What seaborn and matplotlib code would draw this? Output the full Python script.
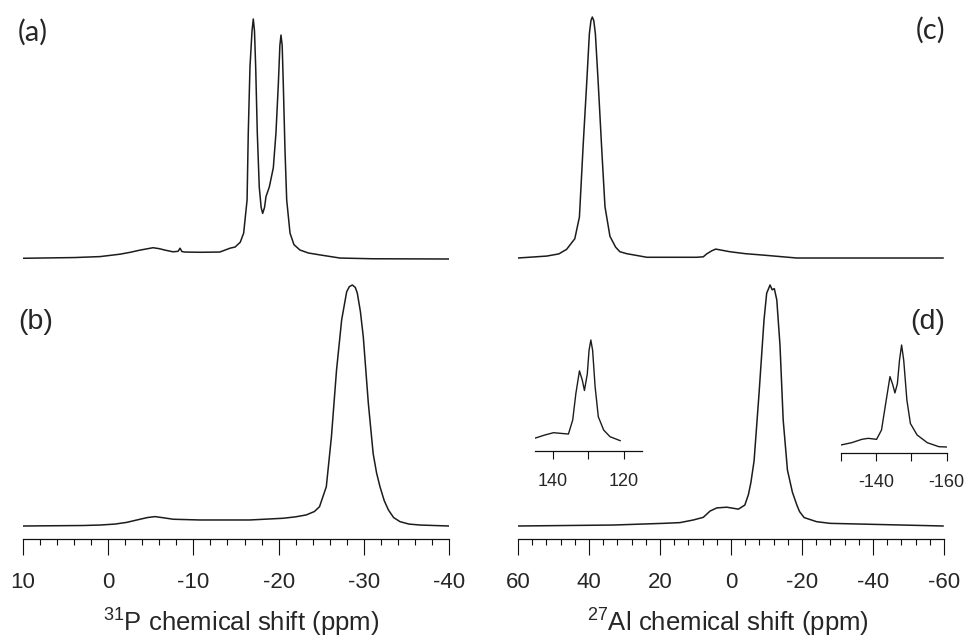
import matplotlib
matplotlib.use('Agg')
import matplotlib.pyplot as plt
from matplotlib.ticker import MultipleLocator, FixedLocator
import seaborn as sns

sns.set_style('white')
plt.rcParams['font.family'] = ['Liberation Sans', 'DejaVu Sans']
plt.rcParams['axes.unicode_minus'] = False
plt.rcParams['mathtext.fontset'] = 'custom'
plt.rcParams['mathtext.rm'] = 'Liberation Sans'

# (a) 31P spectrum, top
a_ppm = [10.0, 4.0, 0.96, -1.38, -2.6, -3.73, -5.26, -6.0, -6.67, -7.6, -8.2, -8.43, -8.65,
         -9.0, -10.8, -13.1, -14.3, -14.9, -15.5, -15.9, -16.3, -16.44, -16.64, -16.88,
         -17.03, -17.17, -17.31, -17.5, -17.73, -17.95, -18.13, -18.35, -18.52, -18.91,
         -19.38, -19.69, -19.97, -20.15, -20.28, -20.42, -20.55, -20.75, -20.95, -21.34,
         -21.8, -22.5, -23.5, -24.86, -27.2, -31.0, -40.0]
a_int = [0.003, 0.006, 0.01, 0.02, 0.028, 0.037, 0.047, 0.043, 0.037, 0.03, 0.032, 0.045,
         0.031, 0.029, 0.028, 0.029, 0.045, 0.05, 0.07, 0.108, 0.246, 0.525, 0.80, 0.95,
         1.0, 0.95, 0.80, 0.525, 0.30, 0.215, 0.19, 0.215, 0.26, 0.30,
         0.38, 0.525, 0.73, 0.89, 0.933, 0.89, 0.73, 0.454, 0.246, 0.108,
         0.06, 0.0375, 0.025, 0.017, 0.004, 0.001, 0.0]

# (b) 31P spectrum, bottom
b_ppm = [10.0, 3.0, 0.96, -0.8, -2.17, -3.73, -4.6, -5.49, -6.5, -7.64, -10.78, -16.6,
         -20.5, -22.0, -23.25, -24.2, -24.8, -25.6, -26.2, -26.8, -27.4, -27.99, -28.3,
         -28.65, -29.0, -29.24, -29.6, -29.94, -30.53, -31.1, -31.5, -31.9, -32.4, -32.9,
         -33.5, -34.25, -35.3, -36.6, -40.0]
b_int = [0.0, 0.002, 0.004, 0.008, 0.015, 0.028, 0.035, 0.039, 0.034, 0.028, 0.025, 0.025,
         0.032, 0.038, 0.046, 0.06, 0.08, 0.163, 0.37, 0.647, 0.855, 0.972, 0.993,
         1.0, 0.99, 0.966, 0.89, 0.785, 0.51, 0.30, 0.22, 0.163, 0.105, 0.066,
         0.035, 0.018, 0.008, 0.004, 0.0]

# (c) 27Al spectrum, top
c_ppm = [60.0, 51.9, 48.5, 46.3, 44.0, 42.7, 41.6, 40.65, 39.9, 39.45, 39.07, 38.65, 38.2,
         37.4, 36.4, 35.5, 34.1, 32.5, 31.3, 29.4, 23.7, 9.7, 7.8, 6.85, 5.4, 4.3, 2.5,
         0.3, -4.0, -9.1, -18.5, -59.8]
c_int = [0.0, 0.008, 0.017, 0.036, 0.08, 0.17, 0.48, 0.725, 0.93, 0.985, 1.0, 0.985, 0.93,
         0.725, 0.448, 0.213, 0.09, 0.045, 0.026, 0.018, 0.003, 0.003, 0.005, 0.017, 0.03,
         0.037, 0.032, 0.026, 0.018, 0.012, 0.0, 0.0]

# (d) 27Al spectrum, bottom
d_ppm = [60.0, 33.2, 19.1, 14.4, 10.6, 7.8, 5.9, 4.0, 1.2, -2.1, -3.9, -4.9, -5.6, -6.5,
         -7.9, -9.3, -10.05, -11.0, -11.6, -12.2, -12.9, -13.8, -14.7, -15.9, -17.3, -18.6,
         -19.3, -20.6, -24.1, -27.9, -59.8]
d_int = [0.0, 0.004, 0.011, 0.014, 0.025, 0.036, 0.062, 0.075, 0.078, 0.07, 0.087, 0.13,
         0.18, 0.27, 0.55, 0.855, 0.966, 1.0, 0.98, 0.985, 0.938, 0.75, 0.44, 0.232, 0.14,
         0.085, 0.06, 0.035, 0.018, 0.011, 0.0]

# insets of (d): sidebands
li_ppm = [145.0, 142.2, 139.8, 137.9, 135.6, 134.4, 133.5, 132.5, 131.7, 131.1, 130.3,
          129.8, 129.3, 128.8, 128.1, 127.2, 125.7, 123.9, 121.0]
li_int = [0.047, 0.078, 0.10, 0.094, 0.087, 0.223, 0.483, 0.70, 0.61, 0.51, 0.67,
          0.90, 1.0, 0.90, 0.547, 0.255, 0.126, 0.061, 0.022]
ri_ppm = [-130.0, -133.0, -135.9, -137.7, -140.1, -141.5, -142.7, -143.9, -144.7, -145.3,
          -146.0, -146.6, -147.2, -147.8, -148.7, -149.7, -151.6, -154.5, -157.8, -160.0]
ri_int = [0.02, 0.042, 0.075, 0.085, 0.075, 0.167, 0.43, 0.69, 0.61, 0.53,
          0.62, 0.85, 1.0, 0.85, 0.46, 0.23, 0.118, 0.042, 0.003, 0.0]

W, H = 969, 641
fig = plt.figure(figsize=(W / 100, H / 100), dpi=100)
line_color = '#1c1c1c'


def make_axes(x0, x1, ytop, ybot, base, scale):
    # pixel box -> figure axes, base = pixel row of zero intensity
    ax = fig.add_axes([x0 / W, 1 - ybot / H, (x1 - x0) / W, (ybot - ytop) / H])
    ax.set_ylim((base - ybot) / scale, (base - ytop) / scale)
    ax.set_facecolor('none')
    return ax


def draw(ax, x, y, lw=1.1):
    sns.lineplot(x=x, y=y, ax=ax, color=line_color, linewidth=lw, estimator=None)


def bottom_only(ax):
    for s in ['top', 'left', 'right']:
        ax.spines[s].set_visible(False)
    ax.spines['bottom'].set_linewidth(0.9)
    ax.spines['bottom'].set_color('#111111')
    ax.set_yticks([])
    ax.set_ylabel('')
    ax.tick_params(axis='x', which='both', bottom=True, labelbottom=True)


ax_a = make_axes(23, 449, 5, 262, 259, 240)
draw(ax_a, a_ppm, a_int)
ax_a.set_xlim(10, -40)
ax_a.set_axis_off()

ax_c = make_axes(518, 944, 5, 262, 258, 241)
draw(ax_c, c_ppm, c_int)
ax_c.set_xlim(60, -60)
ax_c.set_axis_off()

ax_b = make_axes(23, 449, 275, 539, 526, 241)
draw(ax_b, b_ppm, b_int)
ax_b.set_xlim(10, -40)
ax_b.xaxis.set_major_locator(MultipleLocator(10))
ax_b.xaxis.set_minor_locator(MultipleLocator(2))

ax_d = make_axes(518, 944, 275, 539, 526, 241)
draw(ax_d, d_ppm, d_int)
ax_d.set_xlim(60, -60)
ax_d.xaxis.set_major_locator(MultipleLocator(20))
ax_d.xaxis.set_minor_locator(MultipleLocator(4))

for ax in [ax_b, ax_d]:
    bottom_only(ax)
    ax.tick_params(axis='x', which='major', direction='out', length=11.5, width=0.8,
                   labelsize=16, pad=12.5, color='#111111')
    ax.tick_params(axis='x', which='minor', direction='out', length=4.3, width=0.8,
                   color='#111111')
    ax.set_xlabel('')

ax_li = make_axes(535, 641.7, 330, 451, 443, 103)
draw(ax_li, li_ppm, li_int, lw=1.0)
ax_li.set_xlim(145, 115)
ax_li.xaxis.set_major_locator(FixedLocator([140, 120]))
ax_li.xaxis.set_minor_locator(FixedLocator([130]))

ax_ri = make_axes(841, 946.7, 330, 452.5, 447, 102)
draw(ax_ri, ri_ppm, ri_int, lw=1.0)
ax_ri.set_xlim(-130, -160)
ax_ri.xaxis.set_major_locator(FixedLocator([-140, -160]))
ax_ri.xaxis.set_minor_locator(FixedLocator([-130, -150]))

for ax in [ax_li, ax_ri]:
    bottom_only(ax)
    ax.tick_params(axis='x', which='both', direction='out', length=5.5, width=0.8,
                   labelsize=13, pad=10, color='#111111')
    ax.set_xlabel('')

# axis titles
fig.text(240.8 / W, 1 - 632 / H, r'$\mathregular{^{31}}$P chemical shift (ppm)',
         ha='center', va='baseline', fontsize=18.5)
fig.text(727.5 / W, 1 - 632 / H, r'$\mathregular{^{27}}$Al chemical shift (ppm)',
         ha='center', va='baseline', fontsize=18.5)

# panel letters
fig.text(18 / W, 1 - 32 / H, '(a)', ha='left', va='center', fontsize=21,
         family=['Lato', 'DejaVu Sans'])
fig.text(945 / W, 1 - 30 / H, '(c)', ha='right', va='center', fontsize=21,
         family=['Lato', 'DejaVu Sans'])
fig.text(18 / W, 1 - 322 / H, '(b)', ha='left', va='center', fontsize=20.5)
fig.text(945 / W, 1 - 322 / H, '(d)', ha='right', va='center', fontsize=20.5)

fig.savefig('out.png', dpi=100)
